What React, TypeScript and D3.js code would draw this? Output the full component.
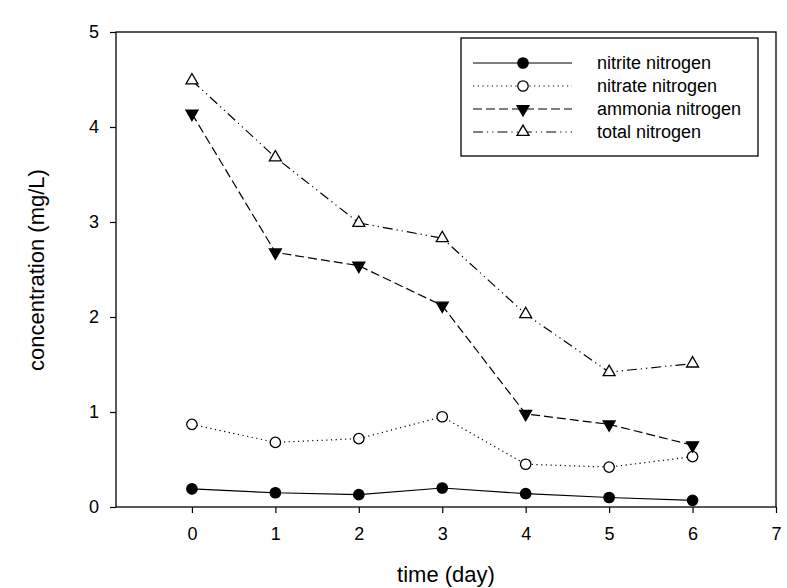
import React, { useEffect, useRef } from 'react';
import * as d3 from 'd3';

// data
const days = [0, 1, 2, 3, 4, 5, 6];
const nitrite = [0.19, 0.15, 0.13, 0.2, 0.14, 0.1, 0.07];
const nitrate = [0.87, 0.68, 0.72, 0.95, 0.45, 0.42, 0.53];
const ammonia = [4.14, 2.68, 2.54, 2.12, 0.98, 0.87, 0.65];
const total = [4.49, 3.68, 2.99, 2.83, 2.03, 1.42, 1.51];
const xTicks = [0, 1, 2, 3, 4, 5, 6, 7];
const yTicks = [0, 1, 2, 3, 4, 5];
const seriesNames = ['nitrite nitrogen', 'nitrate nitrogen', 'ammonia nitrogen', 'total nitrogen'];

function App() {
  const chartRef = useRef(null);

  useEffect(() => {
    var width = 787,
      height = 588;
    var left = 116, right = 776, top = 32, bottom = 507;
    var font = '"Liberation Sans", Arial, sans-serif';

    // no page margin, no scrollbars
    document.body.style.margin = '0';
    document.body.style.overflow = 'hidden';
    document.documentElement.style.overflow = 'hidden';

    d3.select(chartRef.current).select('svg').remove();

    var svg = d3.select(chartRef.current)
      .append('svg')
      .attr('width', width)
      .attr('height', height)
      .style('display', 'block')
      .style('font-family', font);

    var x = d3.scaleLinear().domain([-0.91, 7]).range([left, right]);
    var y = d3.scaleLinear().domain([0, 5]).range([bottom, top]);

    // frame
    svg.append('rect')
      .attr('x', left).attr('y', top)
      .attr('width', right - left).attr('height', bottom - top)
      .attr('fill', 'none').attr('stroke', '#000').attr('stroke-width', 1.3);

    // axes
    var xAxis = svg.append('g')
      .attr('transform', 'translate(0,' + bottom + ')')
      .call(d3.axisBottom(x).tickValues(xTicks).tickSize(6).tickPadding(14).tickFormat(d3.format('d')));
    var yAxis = svg.append('g')
      .attr('transform', 'translate(' + left + ',0)')
      .call(d3.axisLeft(y).tickValues(yTicks).tickSize(6).tickPadding(11).tickFormat(d3.format('d')));
    [xAxis, yAxis].forEach(function (a) {
      a.attr('font-size', 18).attr('font-family', font);
      a.select('.domain').remove();
      a.selectAll('line').attr('stroke', '#000').attr('stroke-width', 1.2);
      a.selectAll('text').attr('fill', '#000');
    });

    // axis titles
    svg.append('text')
      .attr('x', 446).attr('y', 582)
      .attr('text-anchor', 'middle')
      .attr('font-size', 22)
      .text('time (day)');
    svg.append('text')
      .attr('transform', 'translate(44,270) rotate(-90)')
      .attr('text-anchor', 'middle')
      .attr('font-size', 22)
      .text('concentration (mg/L)');

    var styles = [
      { values: nitrite, dash: null, marker: 'circle', fill: '#000' },
      { values: nitrate, dash: '1.2,3.5', marker: 'circle', fill: '#fff' },
      { values: ammonia, dash: '9,4', marker: 'down', fill: '#000' },
      { values: total, dash: '10,4,1.2,4,1.2,4', marker: 'up', fill: '#fff' }
    ];

    var line = d3.line()
      .x(function (d) { return x(d[0]); })
      .y(function (d) { return y(d[1]); });

    function drawMarker(g, kind, fill, cx, cy) {
      if (kind === 'circle') {
        g.append('circle').attr('cx', cx).attr('cy', cy).attr('r', 5.2)
          .attr('fill', fill).attr('stroke', '#000').attr('stroke-width', 1.3);
      } else {
        var sym = d3.symbol().type(d3.symbolTriangle).size(62);
        g.append('path')
          .attr('d', sym())
          .attr('transform', 'translate(' + cx + ',' + cy + ')' + (kind === 'down' ? ' rotate(180)' : ''))
          .attr('fill', fill).attr('stroke', '#000').attr('stroke-width', 1.3);
      }
    }

    styles.forEach(function (s) {
      var pts = days.map(function (d, i) { return [d, s.values[i]]; });
      svg.append('path')
        .attr('d', line(pts))
        .attr('fill', 'none')
        .attr('stroke', '#000')
        .attr('stroke-width', 1.2)
        .attr('stroke-dasharray', s.dash);
      var g = svg.append('g');
      pts.forEach(function (p) { drawMarker(g, s.marker, s.fill, x(p[0]), y(p[1])); });
    });

    // legend
    var lg = svg.append('g');
    lg.append('rect')
      .attr('x', 461).attr('y', 38).attr('width', 297).attr('height', 118)
      .attr('fill', '#fff').attr('stroke', '#000').attr('stroke-width', 1.3);
    var rowY = [63, 86, 109, 132];
    styles.forEach(function (s, i) {
      lg.append('line')
        .attr('x1', 473).attr('x2', 572).attr('y1', rowY[i]).attr('y2', rowY[i])
        .attr('stroke', '#000').attr('stroke-width', 1.2)
        .attr('stroke-dasharray', s.dash);
      drawMarker(lg, s.marker, s.fill, 523, rowY[i]);
      lg.append('text')
        .attr('x', 597).attr('y', rowY[i]).attr('dy', '0.35em')
        .attr('font-size', 18)
        .text(seriesNames[i]);
    });
  }, []);

  return (
    <div>
      <div ref={chartRef}></div>
    </div>
  );
}

export default App;
